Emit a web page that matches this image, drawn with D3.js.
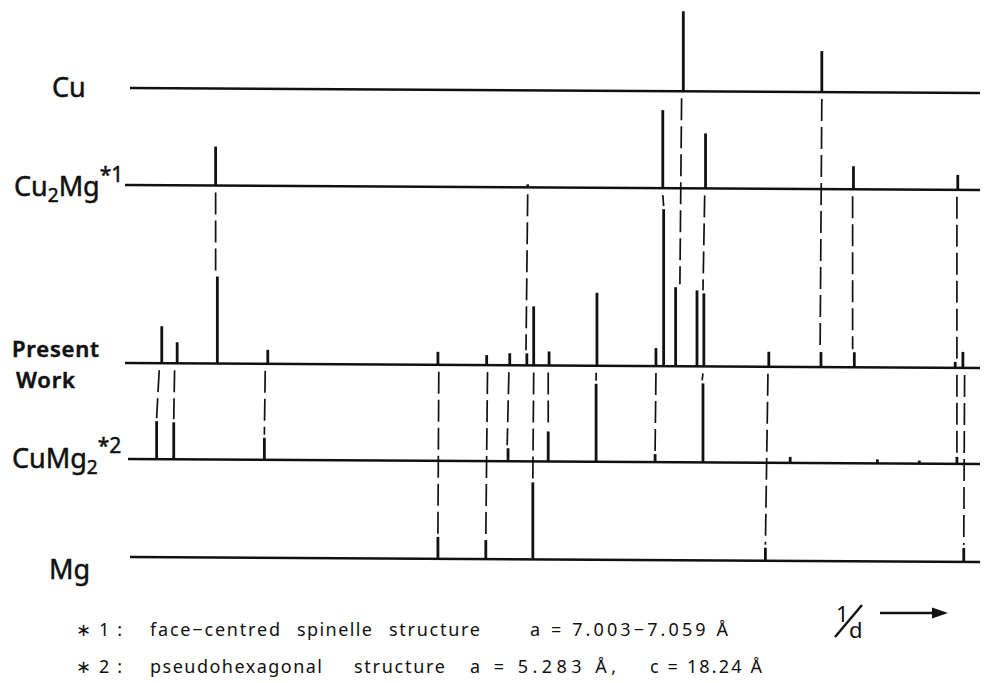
<!DOCTYPE html>
<html>
<head>
<meta charset="utf-8">
<script src="https://cdn.jsdelivr.net/npm/d3@7"></script>
<style>
  html, body { margin: 0; padding: 0; background: #fff; }
  svg { display: block; }
  text { font-family: "Noto Sans", "DejaVu Sans", sans-serif; fill: #111; }
  .lab text { stroke: #111; stroke-width: 0.5; }
</style>
</head>
<body>
<svg id="chart" width="990" height="683"></svg>
<script>
// Diffraction line positions (1/d, arbitrary units 0-100) and relative intensities
const rows = ["Cu", "Cu2Mg", "Present Work", "CuMg2", "Mg"];

const cuPos = [65.3, 81.5];
const cuInt = [80, 41];

const cu2mgPos = [10.6, 47.1, 62.9, 67.9, 85.2, 97.4];
const cu2mgInt = [39, 3, 78, 55, 23, 15];

const presentPos = [4.3, 6.1, 10.8, 16.7, 36.6, 42.3, 45.0, 47.0, 47.8, 49.6, 55.2,
                    62.1, 63.0, 64.4, 66.9, 67.7, 75.3, 81.4, 85.3, 97.1, 98.0];
const presentInt = [37, 21, 87, 14, 13, 10, 12, 12, 59, 14, 73,
                    18, 157, 79, 76, 73, 15, 15, 15, 6, 16];

const cumg2Pos = [3.7, 5.7, 16.3, 44.8, 49.5, 55.1, 62.0, 67.6, 77.8, 88.0, 92.9, 97.3];
const cumg2Int = [38, 37, 22, 13, 30, 78, 8, 79, 6, 4, 3, 7];

const mgPos = [36.6, 42.2, 47.7, 74.9, 98.1];
const mgInt = [22, 19, 77, 13, 14];

// Correspondence lines: [upper row, 1/d at top, lower row, 1/d at bottom]
const links = [
  ["Cu", 65.1, "Present Work", 64.9],
  ["Cu", 81.5, "Present Work", 81.3],
  ["Cu2Mg", 10.6, "Present Work", 10.6],
  ["Cu2Mg", 47.1, "Present Work", 46.9],
  ["Cu2Mg", 62.9, "Present Work", 63.0],
  ["Cu2Mg", 67.8, "Present Work", 67.6],
  ["Cu2Mg", 85.1, "Present Work", 85.1],
  ["Cu2Mg", 97.3, "Present Work", 97.3],
  ["Present Work", 4.0, "CuMg2", 3.7],
  ["Present Work", 5.8, "CuMg2", 5.7],
  ["Present Work", 16.4, "CuMg2", 16.3],
  ["Present Work", 44.9, "CuMg2", 44.7],
  ["Present Work", 49.5, "CuMg2", 49.5],
  ["Present Work", 55.1, "CuMg2", 55.1],
  ["Present Work", 62.1, "CuMg2", 62.0],
  ["Present Work", 67.6, "CuMg2", 67.5],
  ["Present Work", 97.3, "CuMg2", 97.3],
  ["Present Work", 36.7, "Mg", 36.6],
  ["Present Work", 42.4, "Mg", 42.2],
  ["Present Work", 47.8, "Mg", 47.7],
  ["Present Work", 75.2, "Mg", 74.9],
  ["Present Work", 98.2, "Mg", 98.1]
];

const notes = [
  ["\u2217 1 :", "face\u2212centred", "spinelle", "structure", "a = 7.003\u22127.059 \u00C5"],
  ["\u2217 2 :", "pseudohexagonal", "structure", "a = 5.283 \u00C5,", "c = 18.24 \u00C5"]
];

const patterns = {
  "Cu": d3.zip(cuPos, cuInt),
  "Cu2Mg": d3.zip(cu2mgPos, cu2mgInt),
  "Present Work": d3.zip(presentPos, presentInt),
  "CuMg2": d3.zip(cumg2Pos, cumg2Int),
  "Mg": d3.zip(mgPos, mgInt)
};

// ---- layout ----
const svg = d3.select("#chart");
const x = d3.scaleLinear().domain([0, 100]).range([125, 980]);
const h = d3.scaleLinear().domain([0, 160]).range([0, 160]);   // intensity -> line height

const rowLayout = {
  "Cu":           { y: 88,  start: 130 },
  "Cu2Mg":        { y: 185, start: 125 },
  "Present Work": { y: 363, start: 125 },
  "CuMg2":        { y: 459, start: 128 },
  "Mg":           { y: 557, start: 130 }
};
const tilt = d3.scaleLinear().domain([125, 980]).range([0, 5]);
const baseY = (row, px) => rowLayout[row].y + tilt(px);

const g = svg.append("g");

// baselines
rows.forEach(r => {
  const x0 = rowLayout[r].start, x1 = 980;
  g.append("line")
    .attr("x1", x0).attr("y1", baseY(r, x0))
    .attr("x2", x1).attr("y2", baseY(r, x1))
    .attr("stroke", "#111").attr("stroke-width", 2.6);
});

// diffraction lines
rows.forEach(r => {
  g.selectAll(null)
    .data(patterns[r])
    .join("line")
    .attr("x1", d => x(d[0])).attr("x2", d => x(d[0]))
    .attr("y1", d => baseY(r, x(d[0])))
    .attr("y2", d => baseY(r, x(d[0])) - h(d[1]))
    .attr("stroke", "#111").attr("stroke-width", 2.8);
});

// dashed correspondence lines, ending at the top of the matching lower line
const nearest = (row, pos) => {
  const p = patterns[row];
  let best = p[0];
  p.forEach(d => { if (Math.abs(d[0] - pos) < Math.abs(best[0] - pos)) best = d; });
  return best;
};
g.selectAll(null)
  .data(links)
  .join("line")
  .attr("x1", d => x(d[1]))
  .attr("y1", d => baseY(d[0], x(d[1])) + 7)
  .attr("x2", d => x(d[3]))
  .attr("y2", d => {
    const p = nearest(d[2], d[3]);
    return baseY(d[2], x(p[0])) - h(p[1]) - 3;
  })
  .attr("stroke", "#111").attr("stroke-width", 1.7)
  .attr("stroke-dasharray", "22 6");

// row labels
const lab = svg.append("g").attr("class", "lab");
lab.append("text").attr("x", 52).attr("y", 97).attr("font-size", 27).text("Cu");

const t2 = lab.append("text").attr("x", 14).attr("y", 196).attr("font-size", 27);
t2.append("tspan").text("Cu");
t2.append("tspan").attr("font-size", 19).attr("dy", 6).text("2");
t2.append("tspan").attr("dy", -6).text("Mg");
t2.append("tspan").attr("font-size", 21).attr("dy", -14).text("*1");

lab.append("text").attr("x", 12).attr("y", 357).attr("font-size", 22)
  .attr("font-weight", 600).attr("letter-spacing", 0.8).text("Present");
lab.append("text").attr("x", 16).attr("y", 388).attr("font-size", 22)
  .attr("font-weight", 600).attr("letter-spacing", 0.8).text("Work");

const t4 = lab.append("text").attr("x", 12).attr("y", 468).attr("font-size", 27);
t4.append("tspan").text("CuMg");
t4.append("tspan").attr("font-size", 19).attr("dy", 6).text("2");
t4.append("tspan").attr("font-size", 21).attr("dy", -21).text("*2");

lab.append("text").attr("x", 49).attr("y", 579).attr("font-size", 27).text("Mg");

// 1/d direction indicator
const ax = svg.append("g");
const frac = ax.append("text").attr("font-size", 22);
frac.append("tspan").attr("x", 836).attr("y", 622).text("1");
frac.append("tspan").attr("x", 849).attr("y", 638).text("d");
ax.append("line").attr("x1", 835).attr("y1", 637).attr("x2", 862).attr("y2", 605)
  .attr("stroke", "#111").attr("stroke-width", 2.4);
ax.append("line").attr("x1", 880).attr("y1", 613).attr("x2", 935).attr("y2", 613)
  .attr("stroke", "#111").attr("stroke-width", 2.4);
ax.append("path").attr("d", "M932,607.5 L948,613 L932,618.5 Z").attr("fill", "#111");

// footnotes (left edge and width of each piece)
const noteX = [[76, 150, 297, 389, 530], [76, 150, 354, 470, 650]];
const noteW = [[46, 130, 75, 91, 198], [46, 172, 91, 146, 112]];
const noteY = [636, 673];
notes.forEach((line, i) => {
  line.forEach((txt, j) => {
    svg.append("text")
      .attr("x", noteX[i][j]).attr("y", noteY[i])
      .attr("font-size", 18)
      .attr("textLength", noteW[i][j]).attr("lengthAdjust", "spacing")
      .text(txt);
  });
});
</script>
</body>
</html>
